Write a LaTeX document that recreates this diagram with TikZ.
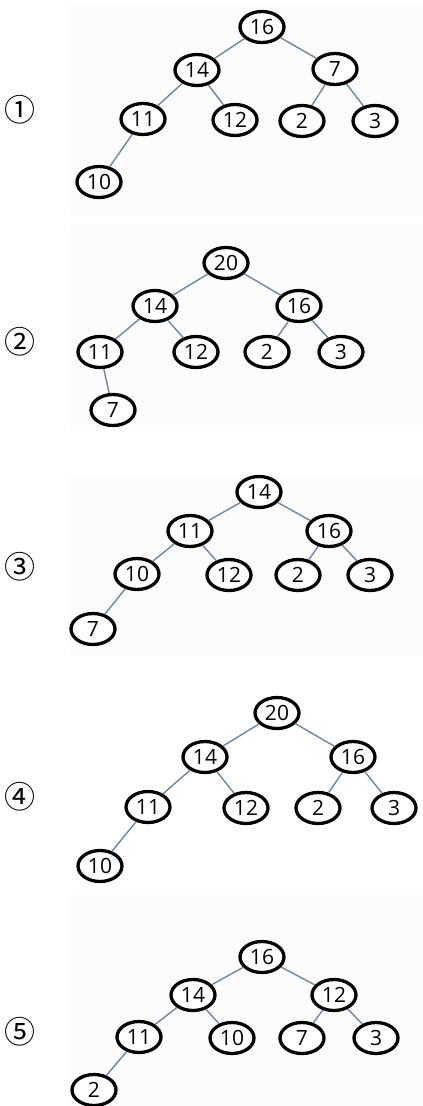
\documentclass[tikz,border=0pt]{standalone}
\usepackage{fontspec}
\usetikzlibrary{shapes.geometric}
\setmainfont{Open Sans}
\newfontfamily\cjkfont{Noto Sans CJK KR}[FakeStretch=1]
\definecolor{edgecol}{HTML}{6F86A0}
\definecolor{bgcol}{HTML}{FCFCFC}
\begin{document}
\begin{tikzpicture}[x=1pt,y=-1pt,
  hn/.style={ellipse,draw=black,line width=3.3pt,fill=white,
    minimum width=44pt,minimum height=31pt,inner sep=0pt,
    font=\fontsize{21}{21}\selectfont},
  ed/.style={draw=edgecol,line width=1.4pt},
  lab/.style={font=\cjkfont\fontsize{31}{31}\selectfont,inner sep=0pt}]
\useasboundingbox (0,0) rectangle (423,1106);
\fill[bgcol] (70,5) rectangle (423,215);
\fill[bgcol] (70,225) rectangle (423,430);
\fill[bgcol] (70,475) rectangle (423,655);
\fill[bgcol] (70,895) rectangle (423,1106);
% Tree 1
\node[lab] (l1) at (20,110) {①};
\node[hn] (a1) at (262,27) {16};
\node[hn] (a2) at (197,70) {14};
\node[hn] (a3) at (335,69) {7};
\node[hn] (a4) at (143,119) {11};
\node[hn] (a5) at (235,120) {12};
\node[hn] (a6) at (302,121) {2};
\node[hn] (a7) at (375,121) {3};
\node[hn] (a8) at (99,182) {10};
\draw[ed] (a1) -- (a2); \draw[ed] (a1) -- (a3);
\draw[ed] (a2) -- (a4); \draw[ed] (a2) -- (a5);
\draw[ed] (a3) -- (a6); \draw[ed] (a3) -- (a7);
\draw[ed] (a4) -- (a8);
% Tree 2
\node[lab] (l2) at (20,342) {②};
\node[hn] (b1) at (226,263) {20};
\node[hn] (b2) at (155,306) {14};
\node[hn] (b3) at (299,306) {16};
\node[hn] (b4) at (100,352) {11};
\node[hn] (b5) at (196,352) {12};
\node[hn] (b6) at (267,352) {2};
\node[hn] (b7) at (341,352) {3};
\node[hn] (b8) at (113,410) {7};
\draw[ed] (b1) -- (b2); \draw[ed] (b1) -- (b3);
\draw[ed] (b2) -- (b4); \draw[ed] (b2) -- (b5);
\draw[ed] (b3) -- (b6); \draw[ed] (b3) -- (b7);
\draw[ed] (b4) -- (b8);
% Tree 3
\node[lab] (l3) at (20,567) {③};
\node[hn] (c1) at (259,492) {14};
\node[hn] (c2) at (190,531) {11};
\node[hn] (c3) at (329,531) {16};
\node[hn] (c4) at (137,574) {10};
\node[hn] (c5) at (229,575) {12};
\node[hn] (c6) at (298,575) {2};
\node[hn] (c7) at (370,575) {3};
\node[hn] (c8) at (93,629) {7};
\draw[ed] (c1) -- (c2); \draw[ed] (c1) -- (c3);
\draw[ed] (c2) -- (c4); \draw[ed] (c2) -- (c5);
\draw[ed] (c3) -- (c6); \draw[ed] (c3) -- (c7);
\draw[ed] (c4) -- (c8);
% Tree 4
\node[lab] (l4) at (20,797) {④};
\node[hn] (d1) at (277,713) {20};
\node[hn] (d2) at (205,757) {14};
\node[hn] (d3) at (353,757) {16};
\node[hn] (d4) at (148,807) {11};
\node[hn] (d5) at (246,808) {12};
\node[hn] (d6) at (318,808) {2};
\node[hn] (d7) at (394,808) {3};
\node[hn] (d8) at (100,866) {10};
\draw[ed] (d1) -- (d2); \draw[ed] (d1) -- (d3);
\draw[ed] (d2) -- (d4); \draw[ed] (d2) -- (d5);
\draw[ed] (d3) -- (d6); \draw[ed] (d3) -- (d7);
\draw[ed] (d4) -- (d8);
% Tree 5
\node[lab] (l5) at (20,1032) {⑤};
\node[hn] (e1) at (262,957) {16};
\node[hn] (e2) at (193,995) {14};
\node[hn] (e3) at (334,995) {12};
\node[hn] (e4) at (139,1037) {11};
\node[hn] (e5) at (232,1038) {10};
\node[hn] (e6) at (302,1038) {7};
\node[hn] (e7) at (376,1038) {3};
\node[hn] (e8) at (94,1090) {2};
\draw[ed] (e1) -- (e2); \draw[ed] (e1) -- (e3);
\draw[ed] (e2) -- (e4); \draw[ed] (e2) -- (e5);
\draw[ed] (e3) -- (e6); \draw[ed] (e3) -- (e7);
\draw[ed] (e4) -- (e8);
\end{tikzpicture}
\end{document}
